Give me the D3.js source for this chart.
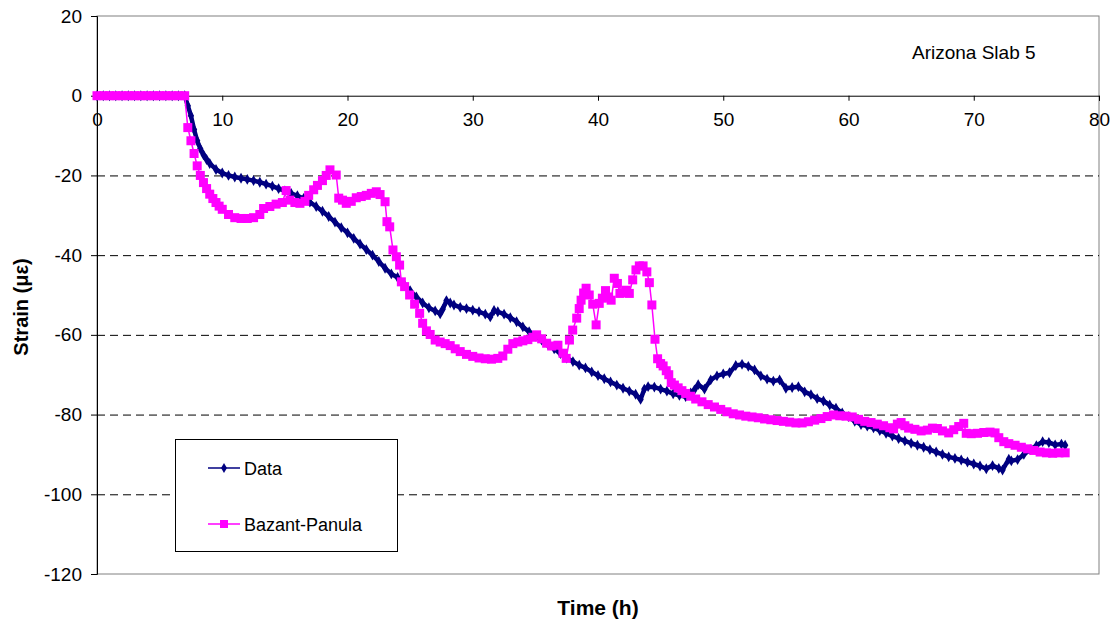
<!DOCTYPE html>
<html><head><meta charset="utf-8">
<script src="https://cdn.jsdelivr.net/npm/d3@7"></script>
<style>body{margin:0;background:#fff}svg{display:block}text{font-family:"Liberation Sans",Arial,sans-serif}</style>
</head><body><svg id="c" width="1119" height="626"></svg>
<script>
const xTicks = [0,10,20,30,40,50,60,70,80];
const yTicks = [20,0,-20,-40,-60,-80,-100,-120];
const seriesNames = ["Data","Bazant-Panula"];
const annotation = "Arizona Slab 5";

const dataTime = [0,0.5,1,1.5,2,2.5,3,3.5,4,4.5,5,5.5,6,6.5,7,7.25,7.5,7.75,8,8.25,8.5,8.75,9,9.5,10,10.5,11,11.5,12,12.5,13,13.5,14,14.5,15,15.5,16,16.5,17,17.5,18,18.5,19,19.5,20,20.5,21,21.5,22,22.5,23,23.5,24,24.5,25,25.5,26,26.5,27,27.4,27.6,27.9,28.2,28.5,29,29.5,30,30.5,31,31.4,31.7,32,32.5,33,33.5,34,34.5,35,35.5,36,36.5,37,37.5,38,38.5,39,39.5,40,40.5,41,41.5,42,42.5,43,43.4,43.7,44,44.5,45,45.5,46,46.5,47,47.4,47.7,48,48.5,49,49.5,50,50.5,51,51.5,52,52.5,53,53.5,54,54.5,55,55.5,56,56.5,57,57.5,58,58.5,59,59.5,60,60.5,61,61.5,62,62.5,63,63.5,64,64.5,65,65.5,66,66.5,67,67.5,68,68.5,69,69.5,70,70.5,71,71.5,72,72.3,72.8,73,73.5,74,74.5,75,75.5,76,76.5,77,77.3];
const dataStrain = [0,0,0,0,0,0,0,0,0,0,0,0,0,0,0,-2.5,-5.0,-8.5,-11.3,-13.3,-14.8,-16.0,-17.0,-18.5,-19.4,-20.0,-20.4,-20.7,-21.0,-21.3,-21.7,-22.2,-22.7,-23.3,-23.9,-24.5,-25.1,-25.8,-26.7,-27.8,-29.0,-30.3,-31.7,-33.1,-34.4,-35.8,-37.2,-38.6,-40.0,-41.6,-43.3,-44.7,-45.6,-47.2,-48.9,-50.5,-52.0,-53.2,-54.0,-54.7,-53.6,-51.4,-52.0,-52.5,-53.1,-53.4,-53.8,-54.2,-54.8,-55.5,-53.9,-54.2,-54.8,-55.7,-56.7,-58.0,-59.2,-60.3,-61.3,-62.4,-63.5,-64.7,-65.8,-66.7,-67.6,-68.3,-69.3,-70.2,-71.0,-71.8,-72.6,-73.4,-74.1,-74.9,-76.2,-73.6,-73.0,-73.1,-73.6,-74.1,-74.8,-75.2,-75.5,-74.6,-73.8,-72.5,-73.6,-71.3,-70.3,-69.8,-69.5,-67.7,-67.4,-67.9,-68.8,-70.3,-71.1,-71.6,-71.3,-73.4,-73.2,-73.0,-74.3,-75.0,-76.0,-76.6,-77.6,-78.4,-79.6,-80.5,-81.7,-82.5,-82.9,-83.3,-84.0,-84.7,-85.4,-86.0,-86.6,-87.2,-87.7,-88.2,-88.8,-89.4,-90.0,-90.6,-91.0,-91.4,-91.9,-92.4,-92.9,-93.6,-92.8,-93.5,-93.9,-91.2,-91.6,-91.3,-90.0,-88.8,-87.8,-86.8,-87.0,-87.6,-87.4,-87.7];

const bpTime = [0,0.5,1,1.5,2,2.5,3,3.5,4,4.5,5,5.5,6,6.5,7,7.25,7.5,7.75,8,8.25,8.5,8.75,9,9.25,9.5,9.75,10,10.5,11,11.5,12,12.5,13,13.3,13.8,14.3,14.8,15.1,15.4,15.8,16.2,16.6,16.9,17.3,17.6,18,18.3,18.6,19.1,19.3,19.6,19.9,20.3,20.7,21.1,21.5,21.9,22.3,22.6,23,23.15,23.37,23.63,23.9,24.16,24.3,24.56,24.96,25.36,25.76,26,26.3,26.6,27,27.4,27.8,28.2,28.6,29,29.5,30,30.5,31,31.5,32,32.4,32.8,33.2,33.6,34,34.4,34.8,35.1,35.5,35.9,36.3,36.8,37.2,37.46,37.72,37.98,38.3,38.5,38.65,38.85,39.05,39.3,39.58,39.85,40.1,40.35,40.6,40.85,41.05,41.3,41.55,41.75,42,42.25,42.5,42.77,43.03,43.3,43.6,43.9,44.1,44.3,44.55,44.76,45,45.2,45.45,45.65,45.85,46.1,46.4,46.7,47,47.4,47.8,48.3,48.8,49.3,49.8,50.3,50.8,51.3,51.8,52.3,52.8,53.3,53.8,54.3,54.8,55.3,55.8,56.3,56.8,57.3,57.8,58.3,58.8,59.3,59.8,60.3,60.8,61.3,61.8,62.3,62.8,63.3,63.6,63.9,64.2,64.5,64.8,65.3,65.8,66.3,66.7,67.1,67.5,68,68.4,68.8,69.2,69.4,69.8,70.3,70.8,71.3,71.7,72,72.4,72.8,73.3,73.8,74.3,74.8,75.3,75.8,76.3,76.8,77.3];
const bpStrain = [0,0,0,0,0,0,0,0,0,0,0,0,0,0,0,-8.0,-11.3,-14.5,-17.6,-20.0,-21.8,-23.3,-24.7,-25.8,-26.8,-27.7,-28.5,-29.8,-30.6,-30.8,-30.8,-30.6,-29.8,-28.3,-27.8,-27.2,-26.8,-23.8,-26.2,-26.8,-27.0,-26.5,-25.0,-23.6,-22.5,-21.3,-20.0,-18.6,-19.9,-25.7,-26.2,-27.0,-26.5,-25.6,-25.3,-25.0,-24.5,-24.1,-24.8,-26.6,-31.6,-32.9,-38.7,-40.4,-42.5,-46.7,-47.9,-50.0,-52.3,-54.6,-57.1,-59.0,-59.9,-61.3,-61.8,-62.2,-62.7,-63.5,-64.2,-64.9,-65.4,-65.8,-66.0,-66.1,-65.9,-65.3,-63.6,-62.2,-61.8,-61.5,-61.2,-60.6,-60.0,-61.0,-62.1,-62.8,-62.6,-64.6,-65.9,-61.3,-58.8,-55.8,-53.4,-51.3,-49.5,-48.3,-50.0,-52.3,-57.5,-52.1,-50.8,-48.9,-50.5,-51.3,-45.8,-47.1,-49.6,-49.4,-48.8,-49.6,-46.2,-43.7,-42.7,-42.7,-44.2,-46.9,-52.5,-61.1,-66.0,-67.2,-67.8,-69.0,-70.0,-72.0,-72.6,-73.3,-74.0,-74.7,-75.4,-76.1,-76.8,-77.5,-78.1,-78.7,-79.3,-79.8,-80.1,-80.4,-80.6,-80.8,-81.1,-81.3,-81.5,-81.7,-81.9,-82.1,-82.1,-81.8,-81.4,-81.0,-80.5,-80.1,-80.3,-80.4,-80.6,-81.2,-81.7,-82.0,-82.4,-82.8,-83.3,-83.6,-82.4,-82.0,-82.8,-83.4,-83.7,-84.1,-83.9,-83.4,-83.5,-84.1,-84.6,-83.8,-83.0,-82.2,-84.7,-84.8,-84.7,-84.5,-84.4,-84.6,-85.8,-86.8,-87.3,-87.7,-88.2,-88.6,-89.0,-89.4,-89.6,-89.7,-89.6,-89.6];

const svg = d3.select("#c");
const x = d3.scaleLinear().domain([0,80]).range([97,1099]);
const y = d3.scaleLinear().domain([-120,20]).range([574,16]);
const navy = "#000080", pink = "#FF00FF";
const fmt = d => String(d);

svg.append("rect").attr("x",x(0)).attr("y",y(20)).attr("width",x(80)-x(0)).attr("height",y(-120)-y(20))
  .attr("fill","none").attr("stroke","#808080").attr("stroke-width",1);

svg.append("g").selectAll("line").data(yTicks.filter(v=>v<0 && v>-120)).join("line")
  .attr("x1",x(0)).attr("x2",x(80)).attr("y1",d=>y(d)+0.5).attr("y2",d=>y(d)+0.5)
  .attr("stroke","#000").attr("stroke-width",1).attr("stroke-dasharray","8,5");

const yAxis = svg.append("g").attr("transform",`translate(${x(0)},0)`)
  .call(d3.axisLeft(y).tickValues(yTicks).tickSize(6).tickPadding(9).tickFormat(fmt));
yAxis.select(".domain").attr("stroke","#000");
yAxis.selectAll("text").attr("font-size",19).attr("fill","#000").attr("font-family","Liberation Sans, Arial");

const xAxis = svg.append("g").attr("transform",`translate(0,${y(0)})`)
  .call(d3.axisBottom(x).tickValues(xTicks).tickSize(5).tickPadding(12).tickFormat(fmt));
xAxis.select(".domain").attr("stroke","#000");
xAxis.selectAll("text").attr("font-size",19).attr("fill","#000").attr("font-family","Liberation Sans, Arial");

const dataPts = dataTime.map((t,i)=>[t,dataStrain[i]]);
const bpPts = bpTime.map((t,i)=>[t,bpStrain[i]]);
const line = d3.line().x(d=>x(d[0])).y(d=>y(d[1]));
const diamond = d3.symbol().type(d3.symbolDiamond).size(34);

svg.append("path").datum(dataPts).attr("d",line).attr("fill","none").attr("stroke",navy)
  .attr("stroke-width",4.5).attr("stroke-linejoin","round");
svg.append("g").selectAll("path").data(dataPts).join("path")
  .attr("transform",d=>`translate(${x(d[0])},${y(d[1])})`).attr("d",diamond).attr("fill",navy);

svg.append("path").datum(bpPts).attr("d",line).attr("fill","none").attr("stroke",pink).attr("stroke-width",1.5);
svg.append("g").selectAll("rect").data(bpPts).join("rect")
  .attr("x",d=>x(d[0])-4.5).attr("y",d=>y(d[1])-4.5).attr("width",9).attr("height",9).attr("fill",pink);

svg.append("text").attr("x",912).attr("y",59).attr("font-size",19).text(annotation);

svg.append("text").attr("x",598).attr("y",615).attr("text-anchor","middle").attr("font-size",21).attr("font-weight","bold").text("Time (h)");
svg.append("text").attr("transform","translate(28,307) rotate(-90)").attr("text-anchor","middle").attr("font-size",20).attr("font-weight","bold").text("Strain (\u03bc\u03b5)");

const lg = svg.append("g");
lg.append("rect").attr("x",175.5).attr("y",439.5).attr("width",222).attr("height",112).attr("fill","#fff").attr("stroke","#000");
const legendY = [468,524];
const legendDiamond = d3.symbol().type(d3.symbolDiamond).size(30);
seriesNames.forEach((n,i)=>{
  const c = i===0?navy:pink;
  lg.append("line").attr("x1",208).attr("x2",240).attr("y1",legendY[i]).attr("y2",legendY[i]).attr("stroke",c).attr("stroke-width",1.5);
  if(i===0) lg.append("path").attr("transform",`translate(224,${legendY[i]})`).attr("d",legendDiamond).attr("fill",c);
  else lg.append("rect").attr("x",220).attr("y",legendY[i]-4).attr("width",8).attr("height",8).attr("fill",c);
  lg.append("text").attr("x",244).attr("y",legendY[i]+6.5).attr("font-size",18).text(n);
});
</script></body></html>
